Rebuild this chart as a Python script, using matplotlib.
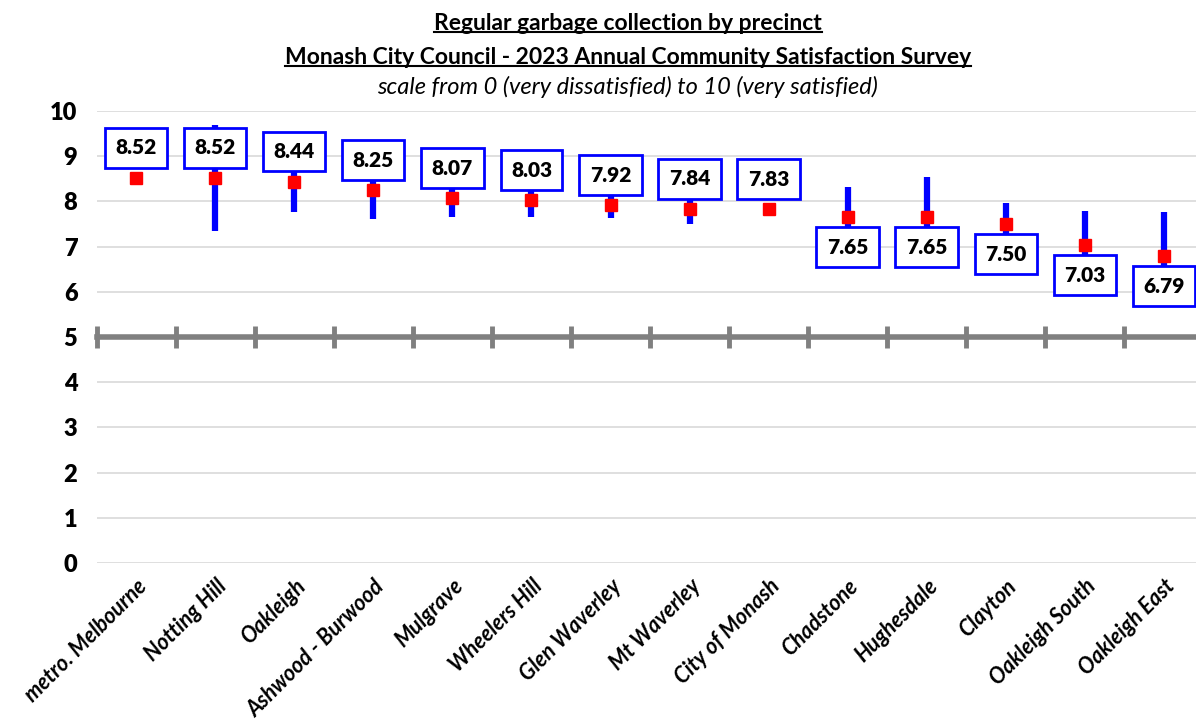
import matplotlib
matplotlib.use('Agg')
import matplotlib.pyplot as plt
from matplotlib.lines import Line2D
from matplotlib.transforms import ScaledTranslation
import numpy as np

# Data
precincts = ['metro. Melbourne', 'Notting Hill', 'Oakleigh', 'Ashwood - Burwood', 'Mulgrave',
             'Wheelers Hill', 'Glen Waverley', 'Mt Waverley', 'City of Monash', 'Chadstone',
             'Hughesdale', 'Clayton', 'Oakleigh South', 'Oakleigh East']
scores = [8.52, 8.52, 8.44, 8.25, 8.07, 8.03, 7.92, 7.84, 7.83, 7.65, 7.65, 7.50, 7.03, 6.79]
upper = [8.60, 9.70, 9.12, 8.88, 8.48, 8.40, 8.20, 8.18, 7.96, 8.32, 8.53, 7.96, 7.79, 7.76]
lower = [8.44, 7.34, 7.76, 7.62, 7.66, 7.66, 7.64, 7.50, 7.70, 6.98, 6.77, 7.04, 6.27, 5.82]
y_ticks = [0, 1, 2, 3, 4, 5, 6, 7, 8, 9, 10]

plt.rcParams['font.family'] = ['Lato', 'DejaVu Sans']

fig = plt.figure(figsize=(11.96, 7.27), dpi=100)
ax = fig.add_axes([0.081, 0.2256, 0.925, 0.6217])

x = np.arange(len(precincts))
scores_a = np.array(scores)
err = [scores_a - np.array(lower), np.array(upper) - scores_a]

# gridlines
for t in y_ticks:
    if t != 5:
        ax.axhline(t, color='#D9D9D9', lw=1.2, zorder=0)

ax.errorbar(x, scores, yerr=err, fmt='none', ecolor='#0000FF', elinewidth=4.5, capsize=0, zorder=2)
ax.plot(x, scores, 's', color='#FF0000', markersize=8, zorder=4)

for xi, v in zip(x, scores):
    off = 30 if v >= 7.8 else -30
    ax.annotate(f'{v:.2f}', (xi, v), xytext=(0, off), textcoords='offset pixels',
                ha='center', va='center', fontsize=15, fontweight='heavy', zorder=5,
                bbox=dict(boxstyle='square,pad=0.5', fc='white', ec='#0000FF', lw=2))

ax.set_xlim(-0.5, 13.5)
ax.set_ylim(0, 10)
ax.set_yticks(y_ticks)
ax.set_yticklabels([str(t) for t in y_ticks], fontsize=17, fontweight='heavy')
ax.set_xticks(x)
ax.set_xticklabels(precincts, rotation=45, ha='right', va='top', rotation_mode='anchor',
                   fontsize=15.5, fontweight='bold', fontstyle='italic')
shift = ScaledTranslation(-8 / 100, 0, fig.dpi_scale_trans)
for lab in ax.get_xticklabels():
    lab.set_transform(lab.get_transform() + shift)
ax.tick_params(axis='both', length=0)
ax.tick_params(axis='x', pad=9)
ax.tick_params(axis='y', pad=14)
for s in ax.spines.values():
    s.set_visible(False)

# category axis crossing at 5
sec = ax.secondary_xaxis(0.5)
sec.set_xticks([])
sec.set_xticks(np.arange(-0.5, len(precincts), 1.0), minor=True)
sec.tick_params(which='minor', direction='inout', length=16, width=3.5, color='#808080')
sec.tick_params(which='both', labelbottom=False, labeltop=False)
sec.spines['top'].set_visible(True)
sec.spines['top'].set_color('#808080')
sec.spines['top'].set_linewidth(4)
for k in ['bottom', 'left', 'right']:
    sec.spines[k].set_visible(False)

# titles
t1 = fig.text(0.525, 0.968, 'Regular garbage collection by precinct', ha='center', va='center',
              fontsize=16.5, fontweight='bold')
t2 = fig.text(0.525, 0.921, 'Monash City Council - 2023 Annual Community Satisfaction Survey',
              ha='center', va='center', fontsize=16.5, fontweight='bold')
fig.text(0.525, 0.880, 'scale from 0 (very dissatisfied) to 10 (very satisfied)', ha='center',
         va='center', fontsize=17, fontstyle='italic')

fig.canvas.draw()
r = fig.canvas.get_renderer()
for t in (t1, t2):
    bb = t.get_window_extent(r).transformed(fig.transFigure.inverted())
    fig.add_artist(Line2D([bb.x0, bb.x1], [bb.y0 + 0.002, bb.y0 + 0.002], color='black', lw=1.5,
                          transform=fig.transFigure))

fig.savefig('out.png', dpi=100)
